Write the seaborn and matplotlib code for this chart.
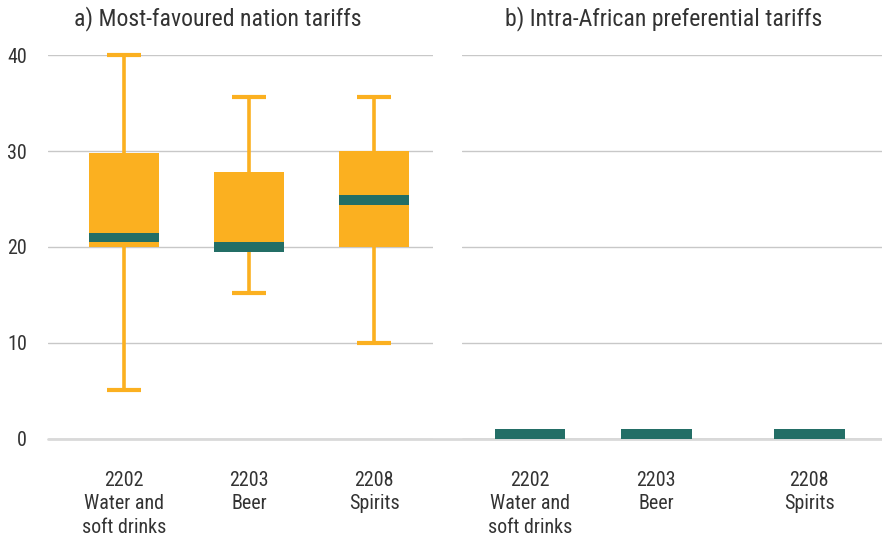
import matplotlib
matplotlib.use("Agg")
import matplotlib.pyplot as plt
from matplotlib import font_manager
import seaborn as sns
import pandas as pd
import numpy as np

# HS product codes and descriptions
codes = ["2202", "2203", "2208"]
products = ["Water and\nsoft drinks", "Beer", "Spirits"]

# a) Most-favoured nation tariffs (%)
mfn_min = [5.1, 15.2, 10.0]
mfn_q1 = [20.0, 20.0, 20.0]
mfn_median = [21.0, 20.0, 24.9]
mfn_q3 = [29.8, 27.8, 30.0]
mfn_max = [40.0, 35.6, 35.7]

# b) Intra-African preferential tariffs (%)
pref_min = [0.0, 0.0, 0.0]
pref_q1 = [0.0, 0.0, 0.0]
pref_median = [0.0, 0.0, 0.0]
pref_q3 = [0.0, 0.0, 0.0]
pref_max = [0.0, 0.0, 0.0]

y_ticks = [0, 10, 20, 30, 40]
titles = ["a) Most-favoured nation tariffs", "b) Intra-African preferential tariffs"]

ORANGE = "#FBB020"
GREEN = "#236E66"
GRID = "#C8C8C8"
TEXT = "#333333"

sns.set_theme(style="white")
names = {f.name for f in font_manager.fontManager.ttflist}
candidates = ["Liberation Sans Narrow", "Arial Narrow", "Roboto Condensed", "Archivo Narrow",
              "PT Sans Narrow", "Pragati Narrow", "Liberation Sans"]
main_font = next(c for c in candidates if c in names)
plt.rcParams["font.family"] = [main_font, "DejaVu Sans"]

fig = plt.figure(figsize=(8.82, 5.37), dpi=100)
W, H = 882, 537
ax_bottom = 438.7
ax_top = 55.3
left_ax = fig.add_axes([48 / W, 1 - ax_bottom / H, (433 - 48) / W, (ax_bottom - ax_top) / H])
right_ax = fig.add_axes([462 / W, 1 - ax_bottom / H, (882 - 462) / W, (ax_bottom - ax_top) / H])
renderer = fig.canvas.get_renderer()


def fitted_size(text, target_px, base=14.0):
    t = fig.text(0, 0, text, fontsize=base)
    w = t.get_window_extent(renderer).width
    t.remove()
    return base * target_px / w


TICK_FS = fitted_size("soft drinks", 85)
TITLE_FS = fitted_size(titles[0], 288)

BOX_W = 0.56
CAP_W = 0.27
BAND = 1.0


def draw_panel(ax, pos, lo, q1, med, q3, hi, xlim):
    df = pd.DataFrame({
        "pos": pos, "lo": lo, "q1": q1, "med": med, "q3": q3, "hi": hi,
    })
    df["iqr"] = df["q3"] - df["q1"]
    df["band_lo"] = np.maximum(df["med"] - BAND / 2, 0)
    df["band_h"] = BAND

    # whiskers and caps, only where they reach past the box
    for _, r in df.iterrows():
        if r.hi > r.q3:
            ax.vlines(r.pos, r.q3, r.hi, color=ORANGE, lw=2.6, zorder=1, clip_on=False)
            ax.hlines(r.hi, r.pos - CAP_W / 2, r.pos + CAP_W / 2, color=ORANGE, lw=3, zorder=1, clip_on=False)
        if r.lo < r.q1:
            ax.vlines(r.pos, r.lo, r.q1, color=ORANGE, lw=2.6, zorder=1, clip_on=False)
            ax.hlines(r.lo, r.pos - CAP_W / 2, r.pos + CAP_W / 2, color=ORANGE, lw=3, zorder=1, clip_on=False)

    # interquartile boxes
    if (df["iqr"] > 0).any():
        sns.barplot(data=df, x="pos", y="iqr", bottom=df["q1"].to_numpy(), native_scale=True,
                    width=BOX_W, color=ORANGE, saturation=1, errorbar=None, ax=ax,
                    linewidth=0, zorder=2)
    # median band
    sns.barplot(data=df, x="pos", y="band_h", bottom=df["band_lo"].to_numpy(), native_scale=True,
                width=BOX_W, color=GREEN, saturation=1, errorbar=None, ax=ax,
                linewidth=0, zorder=3)

    ax.set_xlim(*xlim)
    ax.set_ylim(0, 40)
    ax.set_yticks(y_ticks)
    ax.set_xticks(pos)
    ax.set_xticklabels([f"{c}\n{p}" for c, p in zip(codes, products)],
                       fontsize=TICK_FS, color=TEXT, linespacing=1.3, va="top")
    ax.tick_params(axis="x", length=0, pad=23)
    ax.tick_params(axis="y", length=0, pad=15, labelsize=TICK_FS, labelcolor=TEXT)
    ax.set_xlabel("")
    ax.set_ylabel("")
    ax.grid(axis="y", color=GRID, lw=1)
    ax.set_axisbelow(True)
    for s in ax.spines.values():
        s.set_visible(False)


draw_panel(left_ax, [0, 1, 2], mfn_min, mfn_q1, mfn_median, mfn_q3, mfn_max, (-0.608, 2.472))
draw_panel(right_ax, [0, 1, 2.214], pref_min, pref_q1, pref_median, pref_q3, pref_max, (-0.54, 2.79))
right_ax.tick_params(axis="y", labelleft=False)

# continuous baseline across both panels
gap = (462 - 48) / (882 - 462)
right_ax.axhline(0, xmin=-gap, xmax=1, color="#D9D9D9", lw=2, zorder=0.5, clip_on=False)

fig.text(0.247, 1 - 19 / H, titles[0], ha="center", va="center", fontsize=TITLE_FS, color=TEXT)
fig.text(0.752, 1 - 19 / H, titles[1], ha="center", va="center", fontsize=TITLE_FS, color=TEXT)

fig.savefig("out.png", dpi=100)
